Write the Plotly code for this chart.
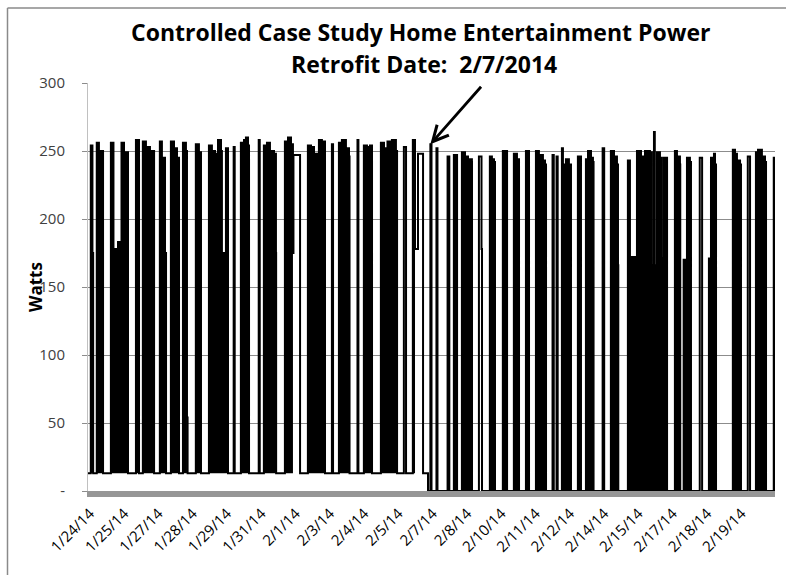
import plotly.graph_objects as go

# Home entertainment circuit power: change points of the logged series.
# hours are counted from 1/24/14 00:00; each value holds until the next point.
hours = [
    8.8,
    11.5, 13.1, 13.8,
    17.3, 19.4, 23.4,
    31.0, 33.5, 37.9, 41.3, 43.7, 47.6,
    55.3, 58.3,
    62.0, 65.0, 68.9, 72.9,
    78.5, 80.5, 83.5, 84.5,
    89.2, 92.2, 95.1, 97.1,
    100.9, 103.8, 104.8, 105.4,
    113.4, 116.4, 118.4,
    126.1, 129.0, 132.0, 134.9, 137.8, 138.7, 142.6, 144.6,
    150.1, 151.1,
    157.1, 160.1, 162.0, 164.0, 165.0,
    174.4, 175.4,
    179.4, 182.4, 185.3, 189.2, 191.1, 191.3,
    199.8, 202.8, 205.7, 207.6, 208.1, 214.5,
    222.1, 225.1, 228.0, 232.8, 235.7, 238.7,
    245.4, 246.5,
    252.2, 255.1, 259.0, 262.0, 262.5,
    270.2, 271.1,
    276.4, 279.4, 282.3, 284.3,
    292.9, 295.9, 297.8, 299.3, 303.6, 307.5, 308.6,
    315.2, 317.3,
    323.9, 326.0, 328.9, 333.8,
    338.6,
    340.9, 342.0,
    346.8, 347.8,
    357.6, 359.3,
    363.7, 366.8,
    371.5, 374.5, 377.4, 378.3, 381.2, 381.3,
    388.0, 390.5, 391.0,
    398.6, 400.6, 401.6, 402.6, 403.6,
    411.2, 415.3,
    421.9, 424.9, 426.9,
    433.6, 436.6,
    443.3, 446.2, 450.1, 452.1, 453.1,
    459.4, 460.6,
    463.3, 464.4,
    468.5, 469.5, 472.4, 475.3, 477.3,
    484.0, 487.0,
    491.8, 493.8, 496.7, 498.6, 499.2,
    508.0, 509.5,
    516.0, 519.0, 521.9, 522.9, 523.2,
    532.5, 534.5, 541.3, 545.2, 549.1, 553.9, 555.8, 557.8, 558.6, 560.7, 563.6, 565.5, 567.5, 570.5,
    578.1, 580.1, 583.0, 583.3,
    586.6, 589.8, 592.7, 593.7,
    602.2, 604.5,
    611.1, 613.1, 616.0, 617.0, 618.0,
    634.3, 636.4, 638.3, 639.3, 641.3, 642.2,
    648.8, 651.0,
    656.7, 658.7, 662.5, 665.5, 666.5,
    674.0, 675.0,
]
watts = [
    13,
    254, 175, 13,
    256, 250, 13,
    256, 178, 183, 256, 249, 13,
    258, 13,
    257, 253, 250, 13,
    257, 245, 175, 13,
    257, 252, 245, 13,
    256, 250, 54, 13,
    255, 249, 13,
    254, 250, 248, 258, 250, 175, 252, 13,
    253, 13,
    256, 258, 260, 254, 13,
    258, 13,
    254, 256, 250, 248, 175, 13,
    257, 260, 255, 175, 247, 13,
    254, 253, 248, 258, 257, 13,
    255, 13,
    256, 258, 252, 246, 13,
    258, 13,
    254, 253, 254, 13,
    256, 252, 175, 257, 258, 250, 13,
    253, 13,
    258, 178, 248, 13,
    0,
    255, 0,
    252, 0,
    246, 0,
    247, 0,
    249, 246, 168, 244, 242, 0,
    246, 178, 0,
    246, 176, 244, 242, 0,
    250, 0,
    248, 244, 0,
    250, 0,
    250, 247, 243, 240, 0,
    247, 0,
    246, 0,
    252, 240, 244, 240, 0,
    246, 0,
    244, 250, 245, 242, 0,
    252, 0,
    250, 246, 240, 166, 0,
    243, 172, 250, 246, 250, 249, 166, 264, 166, 249, 245, 171, 245, 0,
    250, 246, 240, 0,
    170, 245, 242, 0,
    245, 0,
    171, 245, 248, 240, 0,
    251, 248, 166, 243, 240, 0,
    246, 0,
    249, 251, 246, 242, 0,
    245, 0,
]

# Stretches where the load cycles so fast that the trace prints as a solid band
solid_start = [11.5, 17.3, 31.0, 55.3, 62.0, 78.5, 89.2, 100.9, 113.4, 126.1,
               157.1, 179.4, 199.8, 222.1, 252.2, 276.4, 292.9, 323.9, 363.7,
               371.5, 398.6, 411.2, 421.9, 433.6, 443.3, 468.5, 484.0, 491.8,
               516.0, 532.5, 578.1, 586.6, 611.1, 634.3, 656.7]
solid_end = [13.8, 23.4, 47.6, 58.3, 72.9, 84.5, 97.1, 104.8, 118.4, 144.6,
             165.0, 191.3, 207.6, 238.7, 262.5, 284.3, 308.6, 326.0, 366.8,
             381.3, 403.6, 415.3, 426.9, 436.6, 453.1, 477.3, 487.0, 499.2,
             523.2, 570.5, 583.3, 593.7, 618.0, 642.2, 666.5]

# Category-style date labels, one every 33.26 h starting at 10.73 h
tick_labels = ["1/24/14", "1/25/14", "1/27/14", "1/28/14", "1/29/14", "1/31/14",
               "2/1/14", "2/3/14", "2/4/14", "2/5/14", "2/7/14", "2/8/14",
               "2/10/14", "2/11/14", "2/12/14", "2/14/14", "2/15/14", "2/17/14",
               "2/18/14", "2/19/14"]
tick_first_h = 10.73
tick_step_h = 33.26
tick_vals = [tick_first_h + k * tick_step_h for k in range(len(tick_labels))]

y_ticks = [0, 50, 100, 150, 200, 250, 300]
y_tick_text = ["-", "50", "100", "150", "200", "250", "300"]

# First post-retrofit pulse, pointed out by the arrow
retrofit_mark_h = 340.9

fig = go.Figure()

# solid bands: one closed step polygon per stretch, cut from the series itself
for a, b in zip(solid_start, solid_end):
    before = [w for t, w in zip(hours, watts) if t < a]
    base = before[-1]
    seg = [(t, w) for t, w in zip(hours, watts) if a <= t <= b]
    bx = [a] + [t for t, _ in seg] + [b]
    by = [base] + [w for _, w in seg] + [base]
    fig.add_trace(go.Scatter(
        x=bx, y=by, mode="lines", line=dict(shape="hv", width=0, color="black"),
        fill="toself", fillcolor="black", hoverinfo="skip", showlegend=False,
    ))

fig.add_trace(go.Scatter(
    x=hours, y=watts, mode="lines", line=dict(shape="hv", width=2.0, color="black"),
    showlegend=False,
))

L, R, T, B = 88, 11, 83, 84
W, H = 786, 575
pw, ph = W - L - R, H - T - B


def px_x(p):
    return (p - L) / pw


def px_y(p):
    return (H - B - p) / ph


title_font = dict(family="Open Sans", size=23, color="black")
fig.add_annotation(text="<b>Controlled Case Study Home Entertainment Power</b>",
                   xref="paper", yref="paper", x=px_x(420), y=px_y(32),
                   xanchor="center", yanchor="middle", showarrow=False, font=title_font)
fig.add_annotation(text="<b>Retrofit Date:\u00a0 2/7/2014</b>",
                   xref="paper", yref="paper", x=px_x(424), y=px_y(64),
                   xanchor="center", yanchor="middle", showarrow=False, font=title_font)
fig.add_annotation(text="<b>Watts</b>", textangle=-90,
                   xref="paper", yref="paper", x=px_x(35), y=0.5,
                   xanchor="center", yanchor="middle", showarrow=False,
                   font=dict(family="Open Sans", size=17, color="black"))

mark_w = watts[hours.index(retrofit_mark_h)]
fig.add_annotation(x=retrofit_mark_h, y=mark_w, xref="x", yref="y", text="",
                   showarrow=True, arrowhead=5, arrowsize=1.1, arrowwidth=2.8,
                   arrowcolor="black", ax=52, ay=-59, standoff=0)

# chart frame (left and top edges fall inside the picture)
frame = dict(color="#8a8a8a", width=1.5)
fig.add_shape(type="line", xref="paper", yref="paper",
              x0=px_x(7.5), x1=px_x(7.5), y0=px_y(8), y1=px_y(H + 5), line=frame)
fig.add_shape(type="line", xref="paper", yref="paper",
              x0=px_x(7.5), x1=px_x(W + 5), y0=px_y(8), y1=px_y(8), line=frame)

fig.update_layout(
    template="none",
    width=W, height=H,
    margin=dict(l=L, r=R, t=T, b=B, pad=0),
    paper_bgcolor="white", plot_bgcolor="white",
    font=dict(family="Open Sans", color="black"),
    showlegend=False,
    xaxis=dict(
        range=[8.8, 675.2], tickmode="array", tickvals=tick_vals, ticktext=tick_labels,
        tickangle=-45, tickfont=dict(family="Open Sans", size=15, color="#000000"),
        showgrid=False, zeroline=False, ticks="",
        showline=True, linecolor="#969696", linewidth=6,
        ticklabelstandoff=2,
    ),
    yaxis=dict(
        range=[0, 300], tickmode="array", tickvals=y_ticks, ticktext=y_tick_text,
        tickfont=dict(family="Open Sans", size=15, color="#404040"),
        showgrid=True, gridcolor="#8c8c8c", gridwidth=1, zeroline=False,
        showline=True, linecolor="#c0c0c0", linewidth=1,
        ticks="outside", ticklen=5, tickcolor="#8c8c8c",
        ticklabelstandoff=14,
    ),
)

fig.write_html("out.html")
